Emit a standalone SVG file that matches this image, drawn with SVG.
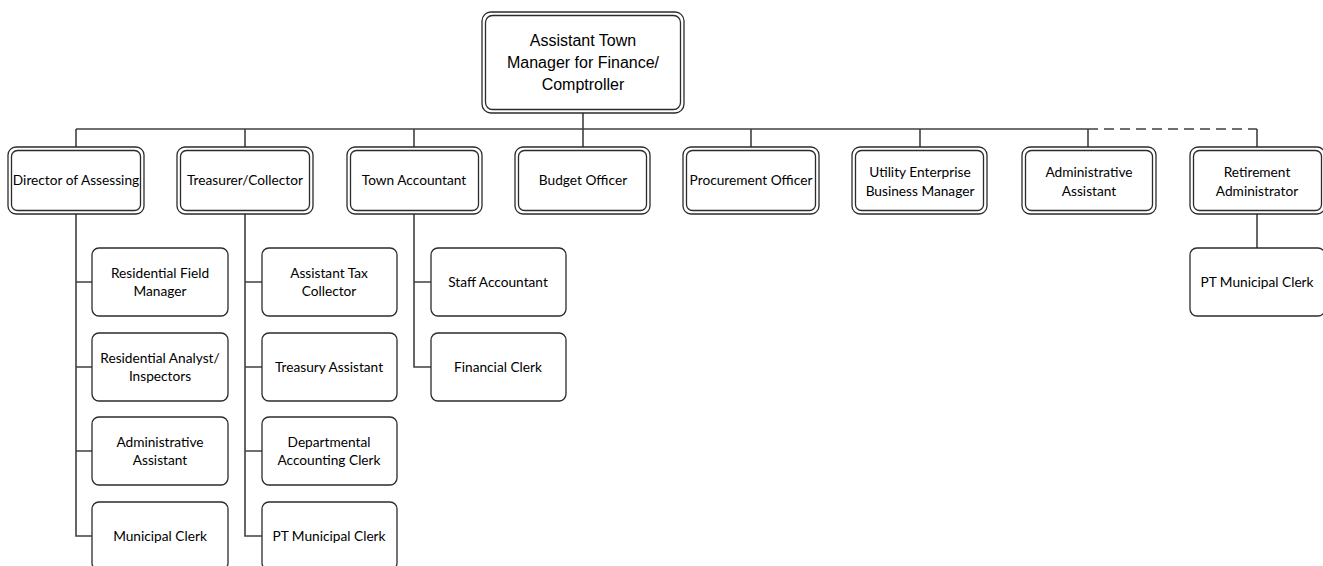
<svg xmlns="http://www.w3.org/2000/svg" width="1323" height="566" viewBox="0 0 1323 566">
<style>
.o{fill:#fff;stroke:#2b2b2b;stroke-width:1.3}
.i{fill:none;stroke:#2b2b2b;stroke-width:1.3}
.c{fill:#fff;stroke:#2b2b2b;stroke-width:1.3}
.l{fill:none;stroke:#404040;stroke-width:1.6}
.d{fill:none;stroke:#404040;stroke-width:1.6;stroke-dasharray:10,6}
text{font-family:Lato,"Open Sans",sans-serif;font-size:13.7px;fill:#000;text-anchor:middle}
.big{font-family:"Liberation Sans",Arial,sans-serif;font-size:16px}
</style>
<g id="connectors">
<line class="l" x1="583" y1="113" x2="583" y2="129"/>
<line class="l" x1="76" y1="129" x2="1088" y2="129"/>
<path class="d" d="M1088 129 H1257"/>
<line class="l" x1="1257" y1="129" x2="1257" y2="147"/>
<line class="l" x1="76" y1="129" x2="76" y2="147"/>
<line class="l" x1="245" y1="129" x2="245" y2="147"/>
<line class="l" x1="414" y1="129" x2="414" y2="147"/>
<line class="l" x1="583" y1="129" x2="583" y2="147"/>
<line class="l" x1="751" y1="129" x2="751" y2="147"/>
<line class="l" x1="920" y1="129" x2="920" y2="147"/>
<line class="l" x1="1088" y1="129" x2="1088" y2="147"/>
<path class="l" d="M76 214 V536 H92 M76 282 H92 M76 367 H92 M76 451 H92"/>
<path class="l" d="M245 214 V536 H262 M245 282 H262 M245 367 H262 M245 451 H262"/>
<path class="l" d="M414 214 V367 H431 M414 282 H431"/>
<line class="l" x1="1257" y1="214" x2="1257" y2="248"/>
</g>
<g id="top">
<rect class="o" x="482" y="12" width="202" height="101" rx="9"/>
<rect class="i" x="485.5" y="15.5" width="195" height="94" rx="7"/>
<text class="big" x="583" y="46">Assistant Town</text>
<text class="big" x="583" y="68">Manager for Finance/</text>
<text class="big" x="583" y="90">Comptroller</text>
</g>
<g id="director">
<rect class="o" x="8" y="147" width="136" height="67" rx="8"/>
<rect class="i" x="11.5" y="150.5" width="129" height="60" rx="6"/>
<text x="76" y="185">Director of Assessing</text>
</g>
<g id="treasurer">
<rect class="o" x="177" y="147" width="136" height="67" rx="8"/>
<rect class="i" x="180.5" y="150.5" width="129" height="60" rx="6"/>
<text x="245" y="185">Treasurer/Collector</text>
</g>
<g id="accountant">
<rect class="o" x="347" y="147" width="135" height="67" rx="8"/>
<rect class="i" x="350.5" y="150.5" width="128" height="60" rx="6"/>
<text x="414" y="185">Town Accountant</text>
</g>
<g id="budget">
<rect class="o" x="515" y="147" width="135" height="67" rx="8"/>
<rect class="i" x="518.5" y="150.5" width="128" height="60" rx="6"/>
<text x="583" y="185">Budget Officer</text>
</g>
<g id="procurement">
<rect class="o" x="683" y="147" width="136" height="67" rx="8"/>
<rect class="i" x="686.5" y="150.5" width="129" height="60" rx="6"/>
<text x="751" y="185">Procurement Officer</text>
</g>
<g id="utility">
<rect class="o" x="852" y="147" width="135" height="67" rx="8"/>
<rect class="i" x="855.5" y="150.5" width="128" height="60" rx="6"/>
<text x="920" y="177">Utility Enterprise</text>
<text x="920" y="196">Business Manager</text>
</g>
<g id="admin">
<rect class="o" x="1022" y="147" width="134" height="67" rx="8"/>
<rect class="i" x="1025.5" y="150.5" width="127" height="60" rx="6"/>
<text x="1089" y="177">Administrative</text>
<text x="1089" y="196">Assistant</text>
</g>
<g id="retirement">
<rect class="o" x="1190" y="147" width="135" height="67" rx="8"/>
<rect class="i" x="1193.5" y="150.5" width="128" height="60" rx="6"/>
<text x="1257" y="177">Retirement</text>
<text x="1257" y="196">Administrator</text>
</g>
<g id="res-field">
<rect class="c" x="92" y="248" width="136" height="68" rx="7"/>
<text x="160" y="278">Residential Field</text>
<text x="160" y="296">Manager</text>
</g>
<g id="res-analyst">
<rect class="c" x="92" y="333" width="136" height="68" rx="7"/>
<text x="160" y="363">Residential Analyst/</text>
<text x="160" y="381">Inspectors</text>
</g>
<g id="dir-admin">
<rect class="c" x="92" y="417" width="136" height="68" rx="7"/>
<text x="160" y="447">Administrative</text>
<text x="160" y="465">Assistant</text>
</g>
<g id="muni-clerk">
<rect class="c" x="92" y="502" width="136" height="68" rx="7"/>
<text x="160" y="541">Municipal Clerk</text>
</g>
<g id="asst-tax">
<rect class="c" x="262" y="248" width="135" height="68" rx="7"/>
<text x="329" y="278">Assistant Tax</text>
<text x="329" y="296">Collector</text>
</g>
<g id="treasury-asst">
<rect class="c" x="262" y="333" width="135" height="68" rx="7"/>
<text x="329" y="372">Treasury Assistant</text>
</g>
<g id="dept-clerk">
<rect class="c" x="262" y="417" width="135" height="68" rx="7"/>
<text x="329" y="447">Departmental</text>
<text x="329" y="465">Accounting Clerk</text>
</g>
<g id="pt-clerk-t">
<rect class="c" x="262" y="502" width="135" height="68" rx="7"/>
<text x="329" y="541">PT Municipal Clerk</text>
</g>
<g id="staff-acct">
<rect class="c" x="431" y="248" width="135" height="68" rx="7"/>
<text x="498" y="287">Staff Accountant</text>
</g>
<g id="fin-clerk">
<rect class="c" x="431" y="333" width="135" height="68" rx="7"/>
<text x="498" y="372">Financial Clerk</text>
</g>
<g id="pt-clerk-r">
<rect class="c" x="1190" y="248" width="135" height="68" rx="7"/>
<text x="1257" y="287">PT Municipal Clerk</text>
</g>
</svg>
